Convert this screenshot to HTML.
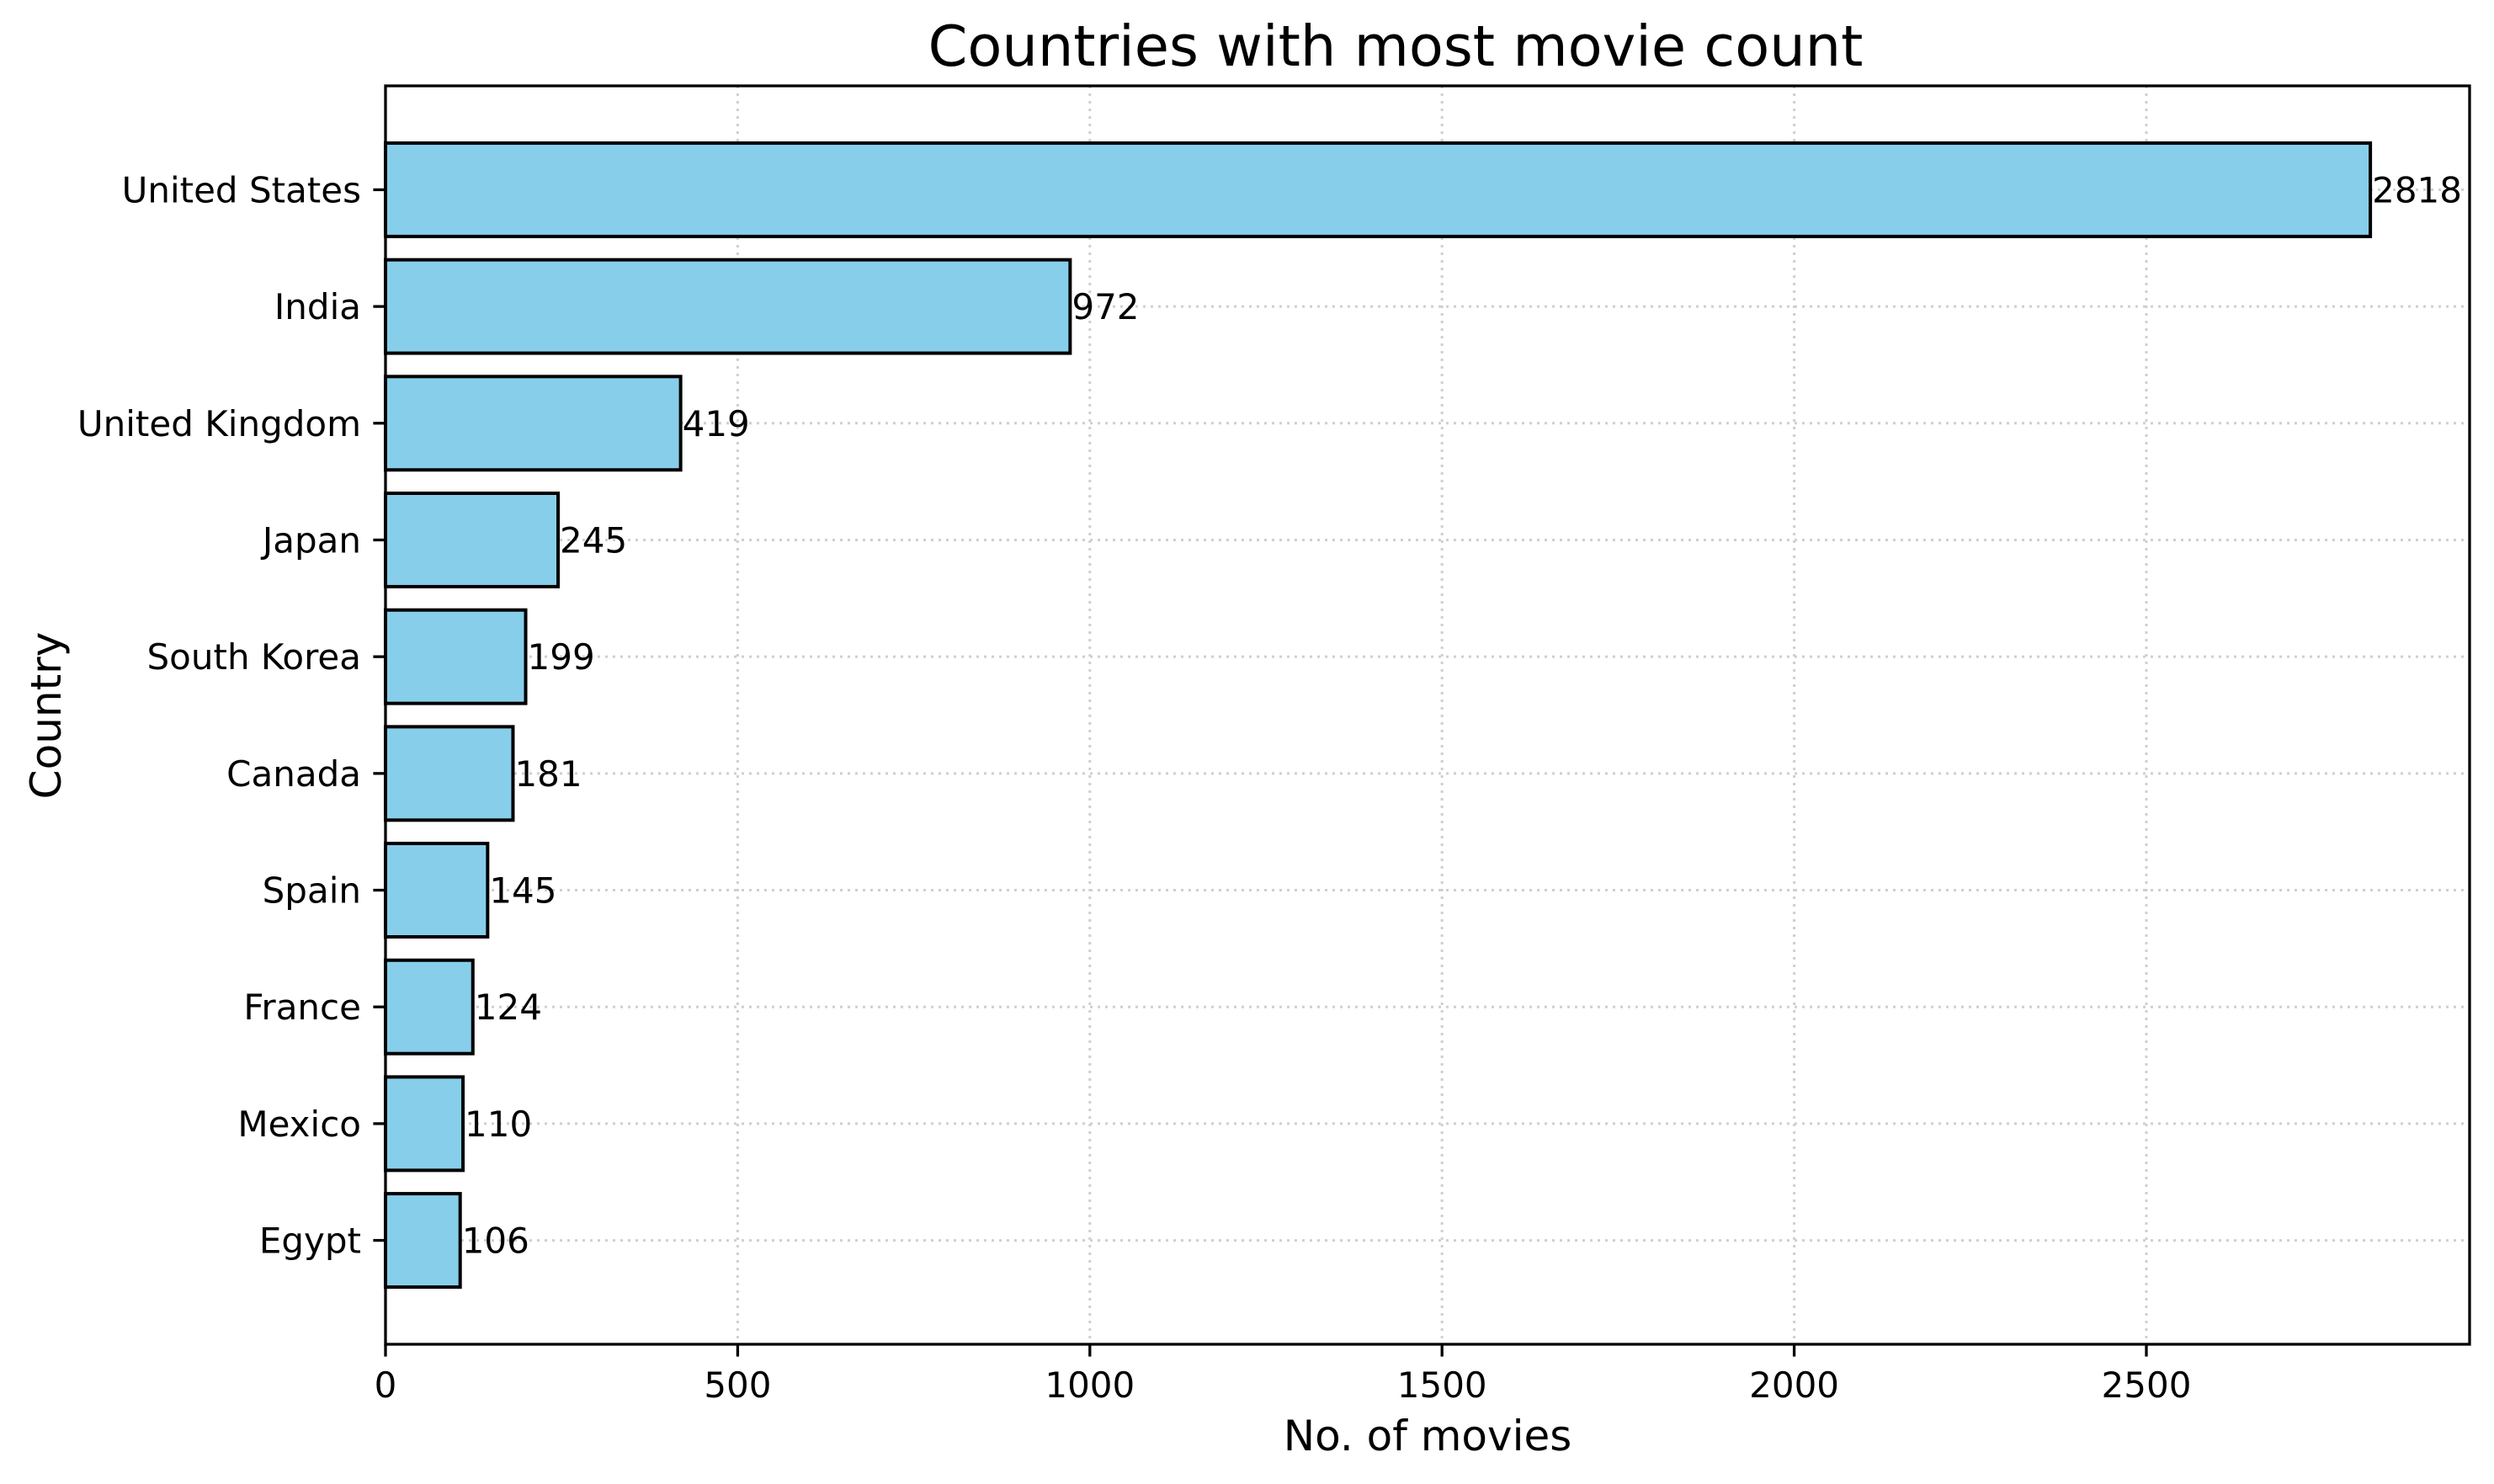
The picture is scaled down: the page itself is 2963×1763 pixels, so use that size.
<!DOCTYPE html>
<html><head><meta charset="utf-8"><style>
html,body{margin:0;padding:0;background:#fff;}
svg{display:block;font-family:"DejaVu Sans","Liberation Sans",sans-serif;}
</style></head><body>
<svg id="chart" width="2963" height="1763" viewBox="0 0 2963 1763" xmlns="http://www.w3.org/2000/svg">
<rect width="2963" height="1763" fill="#fff"/>
<text x="1658" y="78" font-size="67" text-anchor="middle">Countries with most movie count</text>
<text x="1696" y="1723" font-size="50" text-anchor="middle">No. of movies</text>
<text transform="translate(72,850) rotate(-90)" font-size="50" text-anchor="middle">Country</text>
<g id="grid"></g><g id="bars"></g><g id="ticks"></g>
<rect x="458" y="102" width="2476" height="1495" fill="none" stroke="#000" stroke-width="3.3"/>
</svg>
<script>
const categories = ["United States","India","United Kingdom","Japan","South Korea","Canada","Spain","France","Mexico","Egypt"];
const values = [2818,972,419,245,199,181,145,124,110,106];
const xTicks = [0,500,1000,1500,2000,2500];
const L=458,R=2934,T=102,B=1597;
const xMax=2958.9;
const x=v=>L+v/xMax*(R-L);
const yMin=-0.89,yMax=9.89;
const y=i=>T+(i-yMin)/(yMax-yMin)*(B-T);
const bw=0.8*(B-T)/(yMax-yMin);
const NS="http://www.w3.org/2000/svg";
function mk(t,a){const e=document.createElementNS(NS,t);for(const k in a)e.setAttribute(k,a[k]);return e;}
const g=document.getElementById('grid'),b=document.getElementById('bars'),tk=document.getElementById('ticks');
xTicks.forEach(v=>{
 const l=mk('line',{x1:x(v),x2:x(v),y1:T,y2:B,stroke:'#cfcfcf','stroke-width':3,'stroke-dasharray':'3,6'});
 
 
 g.appendChild(l);
 const t=mk('line',{x1:x(v),x2:x(v),y1:B,y2:B+14.6,stroke:'#000','stroke-width':3.3});
 
 
 tk.appendChild(t);
 const s=mk('text',{x:x(v),y:1660,'font-size':42,'text-anchor':'middle'});s.textContent=v;
 
 
 tk.appendChild(s);
});
categories.forEach((c,i)=>{
 const cy=y(i);
 const l=mk('line',{x1:L,x2:R,y1:cy,y2:cy,stroke:'#cfcfcf','stroke-width':3,'stroke-dasharray':'3,6'});
 
 
 g.appendChild(l);
 const r=mk('rect',{x:x(0),y:cy-bw/2,width:x(values[i])-x(0),height:bw,fill:'#87ceeb',stroke:'#000','stroke-width':4});
 
 
 b.appendChild(r);
 const v=mk('text',{x:x(values[i])+2,y:cy+15,'font-size':42});v.textContent=values[i];
 
 
 b.appendChild(v);
 const t=mk('line',{x1:L-14.6,x2:L,y1:cy,y2:cy,stroke:'#000','stroke-width':3.3});
 
 
 tk.appendChild(t);
 const s=mk('text',{x:429,y:cy+15,'font-size':42,'text-anchor':'end'});s.textContent=c;
 
 
 tk.appendChild(s);
});
</script>
</body></html>
